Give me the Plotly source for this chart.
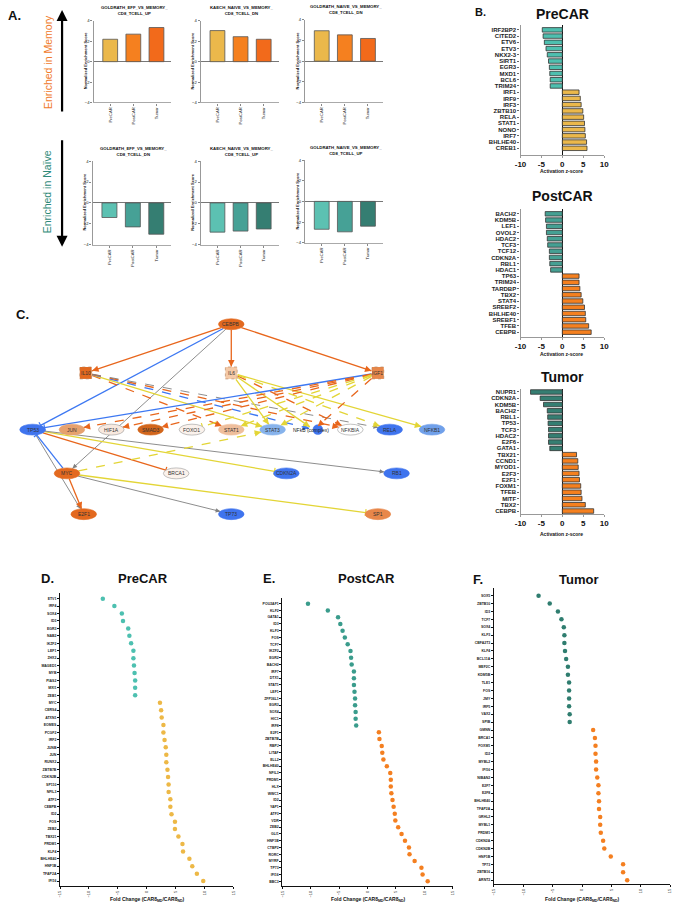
import math
import plotly.graph_objects as go

W, H = 678, 906
FONT = "Liberation Sans, Arial, sans-serif"

# ---------------- Panel A data ----------------
gsea_groups = ["PreCAR", "PostCAR", "Tumor"]
gsea_titles_memory = ["GOLDRATH_EFF_VS_MEMORY_<br>CD8_TCELL_UP",
                      "KAECH_NAIVE_VS_MEMORY_<br>CD8_TCELL_DN",
                      "GOLDRATH_NAIVE_VS_MEMORY_<br>CD8_TCELL_DN"]
gsea_titles_naive = ["GOLDRATH_EFF_VS_MEMORY_<br>CD8_TCELL_DN",
                     "KAECH_NAIVE_VS_MEMORY_<br>CD8_TCELL_UP",
                     "GOLDRATH_NAIVE_VS_MEMORY_<br>CD8_TCELL_UP"]
nes_goldrath_eff_up = [2.2, 2.7, 3.35]
nes_kaech_naive_dn = [3.05, 2.45, 2.2]
nes_goldrath_naive_dn = [2.95, 2.55, 2.2]
nes_goldrath_eff_dn = [-1.4, -2.3, -3.0]
nes_kaech_naive_up = [-2.8, -2.7, -2.5]
nes_goldrath_naive_up = [-2.7, -2.95, -2.4]

# ---------------- Panel B data ----------------
b_pre_genes = ["IRF2BP2", "CITED2", "ETV6", "ETV3", "NKX2-3", "SIRT1", "EGR3", "MXD1", "BCL6", "TRIM24",
               "IRF1", "IRF9", "IRF3", "ZBTB10", "RELA", "STAT1", "NONO", "IRF7", "BHLHE40", "CREB1"]
b_pre_z = [-4.8, -4.6, -4.3, -3.9, -3.6, -3.3, -3.1, -3.0, -2.9, -2.9,
           4.0, 4.3, 4.5, 4.9, 5.1, 5.3, 5.4, 5.5, 5.8, 5.9]
b_post_genes = ["BACH2", "KDM5B", "LEF1", "OVOL2", "HDAC2", "TCF3", "TCF12", "CDKN2A", "RBL1", "HDAC1",
                "TP63", "TRIM24", "TARDBP", "TBX2", "STAT4", "SREBF2", "BHLHE40", "SREBF1", "TFEB", "CEBPB"]
b_post_z = [-4.1, -4.0, -3.8, -3.8, -3.6, -3.5, -3.1, -3.1, -3.0, -2.8,
            4.0, 4.0, 4.2, 4.5, 4.9, 5.3, 5.5, 5.6, 6.3, 6.9]
b_tum_genes = ["NUPR1", "CDKN2A", "KDM5B", "BACH2", "RBL1", "TP53", "TCF3", "HDAC2", "E2F6", "GATA1",
               "TBX21", "CCND1", "MYOD1", "E2F3", "E2F1", "FOXM1", "TFEB", "MITF", "TBX2", "CEBPB"]
b_tum_z = [-7.6, -5.3, -4.5, -3.6, -3.5, -3.4, -3.3, -3.3, -3.3, -3.0,
           3.4, 3.7, 3.8, 4.0, 4.1, 4.4, 4.5, 4.7, 5.5, 7.5]

# ---------------- Panel C data (network) ----------------
net_nodes = ["CEBPB", "IL10", "IL6", "IGF1", "TP53", "JUN", "HIF1A", "SMAD3", "FOXO1", "STAT1", "STAT3",
             "NFkB (complex)", "NFKBIA", "RELA", "NFKB1", "MYC", "BRCA1", "CDKN2A", "RB1", "E2F1", "TP73", "SP1"]
net_edges = [
    ("CEBPB", "IL10", "orange", "solid", "arrow"),
    ("CEBPB", "IL6", "orange", "solid", "arrow"),
    ("CEBPB", "IGF1", "orange", "solid", "arrow"),
    ("CEBPB", "TP53", "blue", "solid", "bar"),
    ("CEBPB", "MYC", "gray", "solid", "arrow"),
    ("IL10", "STAT1", "orange", "dash", "arrow"),
    ("IL10", "STAT3", "yellow", "solid", "arrow"),
    ("IL10", "NFkB (complex)", "blue", "dash", "arrow"),
    ("IL10", "NFKBIA", "orange", "dash", "arrow"),
    ("IL10", "RELA", "gray", "dash", "arrow"),
    ("IL6", "STAT3", "yellow", "solid", "arrow"),
    ("IL6", "NFkB (complex)", "yellow", "solid", "arrow"),
    ("IL6", "NFKBIA", "orange", "dash", "arrow"),
    ("IL6", "RELA", "yellow", "dash", "arrow"),
    ("IL6", "NFKB1", "yellow", "solid", "arrow"),
    ("IGF1", "TP53", "blue", "solid", "bar"),
    ("IGF1", "JUN", "orange", "dash", "arrow"),
    ("IGF1", "HIF1A", "orange", "dash", "arrow"),
    ("IGF1", "SMAD3", "orange", "dash", "arrow"),
    ("IGF1", "FOXO1", "yellow", "dash", "bar"),
    ("IGF1", "STAT1", "yellow", "dash", "arrow"),
    ("IGF1", "STAT3", "yellow", "dash", "arrow"),
    ("IGF1", "NFkB (complex)", "orange", "dash", "arrow"),
    ("TP53", "CDKN2A", "yellow", "solid", "bar"),
    ("TP53", "RB1", "gray", "solid", "arrow"),
    ("TP53", "BRCA1", "orange", "solid", "bar"),
    ("TP53", "E2F1", "gray", "solid", "arrow"),
    ("MYC", "TP53", "blue", "solid", "bar"),
    ("MYC", "STAT3", "yellow", "dash", "arrow"),
    ("MYC", "SP1", "yellow", "solid", "bar"),
    ("MYC", "TP73", "gray", "solid", "arrow"),
    ("MYC", "E2F1", "orange", "solid", "arrow"),
]

# ---------------- Panel D/E/F data ----------------
d_genes = ["ETV1", "IRF4", "SOX4", "ID3", "EGR3", "NAB2", "IKZF2", "LEF1", "ZHX2", "MAGED1", "MYB", "PIAS2",
           "MXI1", "ZEB1", "MYC", "CERS4", "ATXN1", "EOMES", "PCGF2", "IRF2", "JUNB", "JUN", "RUNX2", "ZBTB7B",
           "CDKN2B", "SP110", "NFIL3", "ATF3", "CEBPB", "ID2", "FOS", "ZEB2", "TBX21", "PRDM1", "KLF4",
           "BHLHE40", "HNF1B", "TFAP2A", "IFI16"]
d_fc = [-7.6, -5.6, -4.3, -4.1, -3.2, -3.0, -2.7, -2.3, -2.3, -2.2, -2.1, -2.0, -2.0, -2.0,
        2.3, 2.5, 2.6, 2.9, 2.9, 3.1, 3.3, 3.4, 3.4, 3.6, 3.7, 3.8, 3.8, 4.1, 4.1, 4.3, 4.9, 4.9,
        5.5, 6.2, 6.3, 7.4, 7.9, 8.7, 9.8]
e_genes = ["POU2AF1", "KLF2", "GATA1", "ID3", "KLF3", "FOS", "TCF7", "IKZF2", "EGR2", "BACH2", "IRF7", "DTX1",
           "STAT1", "LEF1", "ZFP36L1", "EGR3", "SOX4", "HIC1", "IRF8", "E2F1", "ZBTB7B", "RBPJ", "LITAF",
           "ELL2", "BHLHE40", "NFIL3", "PRDM1", "HLX", "WWC1", "ID2", "YAP1", "ATF3", "VDR", "ZEB2", "GLI1",
           "HNF1B", "CTBP2", "RORC", "MYRF", "TP73", "IFI16", "BBC3"]
e_fc = [-10.5, -7.0, -5.2, -4.8, -4.4, -4.0, -3.5, -3.0, -2.9, -2.8, -2.4, -2.4, -2.4, -2.3, -2.2,
        -2.2, -2.1, -2.1, -2.0, 2.0, 2.1, 2.5, 2.6, 2.8, 3.4, 4.0, 4.1, 4.1, 4.2, 4.4, 4.6, 4.8, 4.9,
        5.4, 6.0, 6.6, 7.3, 7.4, 8.3, 9.5, 9.7, 10.6]
f_genes = ["SOX5", "ZBTB10", "ID3", "TCF7", "SOX4", "KLF3", "CBFA2T3", "KLF4", "BCL11A", "MEF2C", "KDM5B",
           "TLE1", "FOS", "JMY", "IRF5", "VAX2", "SPIB", "GMNN", "BRCA1", "FOXM1", "ID2", "MYBL2", "IFI16",
           "NIBAN2", "E2F7", "E2F8", "BHLHE40", "TFAP2A", "GRHL2", "MYBL1", "PRDM1", "CDKN2A", "CDKN2B",
           "HNF1B", "TP73", "ZBTB16", "ARNT2"]
f_fc = [-7.4, -5.5, -4.1, -3.5, -3.1, -3.0, -3.0, -2.9, -2.7, -2.4, -2.4, -2.2, -2.2, -2.2, -2.2,
        -2.1, -2.1, 1.9, 2.2, 2.3, 2.3, 2.4, 2.4, 2.6, 2.8, 2.8, 2.9, 2.9, 3.1, 3.1, 3.2, 3.6, 3.8,
        4.9, 7.0, 7.0, 7.7]

# ---------------- helpers ----------------
def px(x):
    return x / W


def py(y):
    return 1 - y / H


fig = go.Figure()
layout = {}
annotations = []
shapes = []


def ax_names(i):
    return ("xaxis" if i == 1 else f"xaxis{i}", "yaxis" if i == 1 else f"yaxis{i}",
            "x" if i == 1 else f"x{i}", "y" if i == 1 else f"y{i}")


def text(x, y, s, size, color="#111", bold=False, angle=0, xanchor="center", yanchor="middle"):
    annotations.append(dict(x=px(x), y=py(y), xref="paper", yref="paper", text=(f"<b>{s}</b>" if bold else s),
                            showarrow=False, font=dict(size=size, color=color, family=FONT),
                            textangle=angle, xanchor=xanchor, yanchor=yanchor))


# ---------------- Panel A ----------------
pre_c, post_c, tum_c = "#EBB84B", "#F5801F", "#F26A1B"
tl1, tl2, tl3 = "#5CC1B2", "#46A196", "#357E72"
a_sets = [
    (nes_goldrath_eff_up, gsea_titles_memory[0], [pre_c, post_c, tum_c], (89, 168), (18, 100)),
    (nes_kaech_naive_dn, gsea_titles_memory[1], [pre_c, post_c, tum_c], (198, 277), (18, 100)),
    (nes_goldrath_naive_dn, gsea_titles_memory[2], [pre_c, post_c, tum_c], (304, 383), (17, 100)),
    (nes_goldrath_eff_dn, gsea_titles_naive[0], [tl1, tl2, tl3], (88, 168), (159, 243)),
    (nes_kaech_naive_up, gsea_titles_naive[1], [tl1, tl2, tl3], (198, 277), (159, 243)),
    (nes_goldrath_naive_up, gsea_titles_naive[2], [tl1, tl2, tl3], (304, 383), (158, 241)),
]
for k, (vals, title, cols, xd, yd) in enumerate(a_sets):
    i = k + 1
    xa, ya, xr, yr = ax_names(i)
    fig.add_trace(go.Bar(x=list(range(3)), y=vals, marker=dict(color=cols, line=dict(color="#555", width=0.8)),
                         width=0.64, xaxis=xr, yaxis=yr, showlegend=False))
    layout[xa] = dict(domain=[px(xd[0]), px(xd[1])], anchor=yr, range=[-0.72, 2.64],
                      tickvals=[0, 1, 2], ticktext=gsea_groups, tickangle=-90,
                      tickfont=dict(size=4.2, color="#222", family=FONT), ticks="outside", ticklen=2,
                      tickcolor="#888", showline=True, linecolor="#aaa", linewidth=1.2, showgrid=False,
                      zeroline=False)
    layout[ya] = dict(domain=[py(yd[1]), py(yd[0])], anchor=xr, range=[-4, 4], tickvals=[-4, -2, 0, 2, 4],
                      tickfont=dict(size=4.2, color="#222", family=FONT), ticks="outside", ticklen=2,
                      tickcolor="#888", showline=True, linecolor="#999", linewidth=1.2, showgrid=False,
                      zeroline=True, zerolinecolor="#777", zerolinewidth=1.2)
    ytitle = yd[0] - 10
    text((xd[0] + xd[1]) / 2 + 2, ytitle, title, 4.3, bold=True)
    text(xd[0] - 8, (yd[0] + yd[1]) / 2 - 1, "Normalized Enrichment Score", 4, angle=-90, bold=True)

text(9, 13, "A.", 13, bold=True)
text(42, 59, "Enriched in Memory", 10.5, color="#F07B2B", angle=-90)
text(42, 190, "Enriched in Naïve", 10.5, color="#2F8A79", angle=-90)
annotations.append(dict(x=px(57), y=py(7), xref="paper", yref="paper", ax=0, ay=103, axref="pixel",
                        ayref="pixel", showarrow=True, arrowhead=2, arrowsize=1, arrowwidth=2.2,
                        arrowcolor="#000", text=""))
annotations.append(dict(x=px(57), y=py(245), xref="paper", yref="paper", ax=0, ay=-108, axref="pixel",
                        ayref="pixel", showarrow=True, arrowhead=2, arrowsize=1, arrowwidth=2.2,
                        arrowcolor="#000", text=""))

# ---------------- Panel B ----------------
b_sets = [
    (b_pre_genes, b_pre_z, "#4EBFAF", pre_c, (22, 153), [20.1, -0.8], "PreCAR", 11, 169),
    (b_post_genes, b_post_z, "#45A093", post_c, (207, 336), [19.8, -0.8], "PostCAR", 194, 353),
    (b_tum_genes, b_tum_z, "#357E72", post_c, (388, 514), [19.5, -0.5], "Tumor", 376, 534),
]
for k, (genes, z, neg_c, pos_c, yd, yrange, ttl, ty, xty) in enumerate(b_sets):
    i = 7 + k
    xa, ya, xr, yr = ax_names(i)
    cols = [neg_c if v < 0 else pos_c for v in z]
    fig.add_trace(go.Bar(x=z, y=list(range(len(genes))), orientation="h",
                         marker=dict(color=cols, line=dict(color="#333", width=0.8)), width=0.72,
                         xaxis=xr, yaxis=yr, showlegend=False))
    layout[xa] = dict(domain=[px(523), px(608)], anchor=yr, range=[-10, 10], tickvals=[-10, -5, 0, 5, 10],
                      ticktext=["<b>-10</b>", "<b>-5</b>", "<b>0</b>", "<b>5</b>", "<b>10</b>"],
                      tickfont=dict(size=8, color="#111", family=FONT), ticks="outside", ticklen=1.5,
                      tickcolor="#999", showline=True, linecolor="#999", linewidth=1.2, showgrid=False,
                      zeroline=True, zerolinecolor="#111", zerolinewidth=1)
    layout[ya] = dict(domain=[py(yd[1]), py(yd[0])], anchor=xr, range=yrange,
                      tickvals=list(range(len(genes))), ticktext=[f"<b>{g}</b>" for g in genes],
                      tickfont=dict(size=6, color="#222", family=FONT), ticks="outside", ticklen=2,
                      tickcolor="#666", showline=True, linecolor="#999", linewidth=1.2, showgrid=False,
                      zeroline=False)
    text(566, ty, ttl, 14, bold=True)
    text(565, xty, "Activation z-score", 5, bold=True)
text(482, 9, "B.", 11, bold=True)

# ---------------- Panel C (network) ----------------
node_pos = {
    "CEBPB": (229, 323), "IL10": (81, 372), "IL6": (229, 372), "IGF1": (378, 372),
    "TP53": (27, 429), "JUN": (67, 429), "HIF1A": (107, 429), "SMAD3": (147, 429), "FOXO1": (189, 429),
    "STAT1": (229, 429), "STAT3": (271, 429), "NFkB (complex)": (313, 429), "NFKBIA": (350, 429),
    "RELA": (390, 429), "NFKB1": (433, 429), "MYC": (62, 473), "BRCA1": (173, 473), "CDKN2A": (285, 473),
    "RB1": (397, 473), "E2F1": (79, 514), "TP73": (229, 514), "SP1": (378, 514),
}
node_fill = {
    "CEBPB": "#E3691F", "IL10": "#E3691F", "IL6": "#F5C9A6", "IGF1": "#E8874A", "TP53": "#3F74EE",
    "JUN": "#E6A16E", "HIF1A": "#F8E9DF", "SMAD3": "#D2661C", "FOXO1": "#FBF2EC", "STAT1": "#EFBE9B",
    "STAT3": "#87B3EC", "NFkB (complex)": "#3F74EE", "NFKBIA": "#FFFFFF", "RELA": "#3F74EE",
    "NFKB1": "#70A0EA", "MYC": "#E3691F", "BRCA1": "#FBF2EC", "CDKN2A": "#3F74EE", "RB1": "#3F74EE",
    "E2F1": "#E3691F", "TP73": "#3F74EE", "SP1": "#E8874A",
}
rect_nodes = {"IL10", "IL6", "IGF1"}
edge_col = {"orange": "#E8661C", "blue": "#3D78F2", "gray": "#808080", "yellow": "#E3D536"}
RX, RY, HS, SR = 13, 5.5, 6, 5


def boundary(n, ux, uy):
    if n in rect_nodes:
        return HS / max(abs(ux), abs(uy)) + 0.5
    if n == "NFkB (complex)":
        return SR
    return 1 / math.sqrt((ux / RX) ** 2 + (uy / RY) ** 2)


for (a, b, c, dash, end) in net_edges:
    x1, y1 = node_pos[a]
    x2, y2 = node_pos[b]
    dx, dy = x2 - x1, y2 - y1
    L = math.hypot(dx, dy)
    ux, uy = dx / L, dy / L
    r1, r2 = boundary(a, ux, uy), boundary(b, -ux, -uy)
    sx, sy = x1 + ux * r1, y1 + uy * r1
    ex, ey = x2 - ux * r2, y2 - uy * r2
    col = edge_col[c]
    lw = 0.9 if c == "gray" else 1.3
    shapes.append(dict(type="line", xref="paper", yref="paper", x0=px(sx), y0=py(sy), x1=px(ex), y1=py(ey),
                       line=dict(color=col, width=lw, dash=("dash" if dash == "dash" else "solid")),
                       layer="below"))
    if end == "arrow":
        annotations.append(dict(x=px(ex), y=py(ey), xref="paper", yref="paper", ax=-ux * 7, ay=-uy * 7,
                                axref="pixel", ayref="pixel", showarrow=True, arrowhead=2, arrowsize=1,
                                arrowwidth=lw, arrowcolor=col, text="", standoff=0))
    else:
        nx, ny = -uy, ux
        shapes.append(dict(type="line", xref="paper", yref="paper", x0=px(ex + nx * 3.5), y0=py(ey + ny * 3.5),
                           x1=px(ex - nx * 3.5), y1=py(ey - ny * 3.5), line=dict(color=col, width=1.2)))

for n in net_nodes:
    x, y = node_pos[n]
    fill = node_fill[n]
    light = fill in ("#FFFFFF", "#FBF2EC", "#F8E9DF")
    if n in rect_nodes:
        shapes.append(dict(type="rect", xref="paper", yref="paper", x0=px(x - HS), x1=px(x + HS),
                           y0=py(y + HS), y1=py(y - HS), fillcolor=fill,
                           line=dict(color="#B0825A", width=0.6, dash="dot")))
        text(x, y, n, 5, color="#333")
    elif n == "NFkB (complex)":
        shapes.append(dict(type="circle", xref="paper", yref="paper", x0=px(x + 4 - SR), x1=px(x + 4 + SR),
                           y0=py(y + SR), y1=py(y - SR), fillcolor=fill, line=dict(color=fill, width=0.5)))
        text(x - 3, y, n, 5, color="#222")
    else:
        shapes.append(dict(type="circle", xref="paper", yref="paper", x0=px(x - RX), x1=px(x + RX),
                           y0=py(y + RY), y1=py(y - RY), fillcolor=fill,
                           line=dict(color=("#999" if light else fill), width=0.6)))
        text(x, y, n, 5, color="#333")
text(17, 313, "C.", 13, bold=True)

# ---------------- Panels D/E/F ----------------
d_sets = [
    (d_genes, d_fc, "#4DC0B0", "#EDB846", (55, 231), (593, 888), [38.67, -0.8], "D.", 42, "PreCAR", 139, 579),
    (e_genes, e_fc, "#3A9C8C", "#F47F20", (281, 454), (598, 888), [41.7, -0.88], "E.", 267, "PostCAR", 366, 579),
    (f_genes, f_fc, "#2F7D6F", "#F47F20", (496, 675), (588, 886), [36.5, -1.0], "F.", 480, "Tumor", 582, 580),
]
for k, (genes, fc, neg_c, pos_c, xd, yd, yrange, lab, labx, ttl, ttlx, ty) in enumerate(d_sets):
    i = 10 + k
    xa, ya, xr, yr = ax_names(i)
    cols = [neg_c if v < 0 else pos_c for v in fc]
    fig.add_trace(go.Scatter(x=fc, y=list(range(len(genes))), mode="markers",
                             marker=dict(color=cols, size=4.5, line=dict(width=0)),
                             xaxis=xr, yaxis=yr, showlegend=False))
    layout[xa] = dict(domain=[px(xd[0]), px(xd[1])], anchor=yr, range=[-15, 15],
                      tickvals=[-15, -10, -5, 0, 5, 10, 15], tickangle=-90,
                      tickfont=dict(size=4, color="#222", family=FONT), ticks="outside", ticklen=2,
                      tickcolor="#111", showline=True, linecolor="#111", linewidth=1, showgrid=False,
                      zeroline=False)
    layout[ya] = dict(domain=[py(yd[1]), py(yd[0])], anchor=xr, range=yrange,
                      tickvals=list(range(len(genes))), ticktext=[f"<b>{g}</b>" for g in genes],
                      tickfont=dict(size=3.5, color="#222", family=FONT), ticks="outside", ticklen=2,
                      tickcolor="#111", showline=True, linecolor="#111", linewidth=1, showgrid=False,
                      zeroline=False)
    text(labx, ty, lab, 13, bold=True)
    text(ttlx, ty, ttl, 13, bold=True)
    text((xd[0] + xd[1]) / 2, 901, "Fold Change (CAR8<sub>MD</sub>/CAR8<sub>ND</sub>)", 5, bold=True)

layout.update(dict(width=W, height=H, autosize=False, margin=dict(l=0, r=0, t=0, b=0),
                   paper_bgcolor="white", plot_bgcolor="white", showlegend=False,
                   font=dict(family=FONT), annotations=annotations, shapes=shapes, bargap=0.3))
fig.update_layout(**layout)
fig.write_html("out.html", config={"displayModeBar": False},
               post_script="document.body.style.margin='0px';document.body.style.overflow='hidden';")
